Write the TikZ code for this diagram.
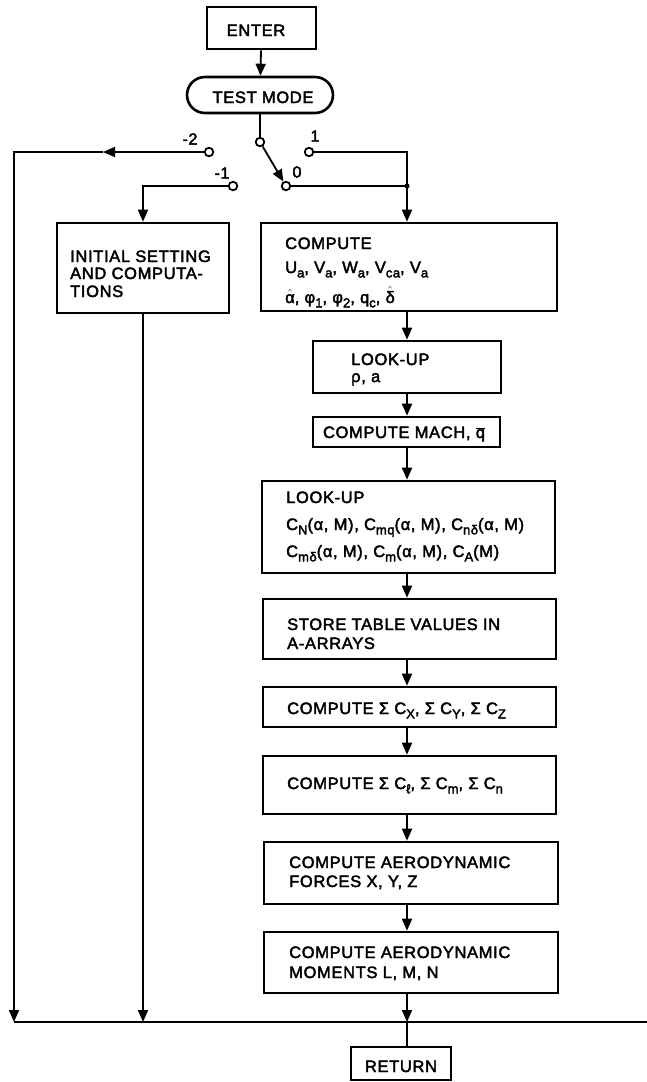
\documentclass[tikz,border=0pt]{standalone}
\usepackage{fontspec}
\setmainfont{Liberation Sans}[FakeBold=2.5,LetterSpace=4]
\usetikzlibrary{arrows.meta,shapes.misc}
\newcommand\sbs[1]{\raisebox{-0.5ex}{\fontsize{13}{13}\selectfont #1}}
\newcommand\hatm[1]{$\hat{\mbox{#1}}$}
\newcommand\barq{$\overline{\mbox{q}}$}
\begin{document}
\begin{tikzpicture}[x=1pt,y=-1pt,
  font=\fontsize{16.5}{18}\selectfont,
  box/.style={draw, line width=2.6pt, inner sep=0pt},
  conn/.style={line width=1.8pt},
  arr/.style={conn, -{Triangle[length=12pt,width=10pt]}},
  term/.style={circle, draw, fill=white, line width=1.8pt, minimum size=8.5pt, inner sep=0pt},
  txt/.style={anchor=base west, inner sep=0pt},
  lbl/.style={inner sep=0pt, font=\fontsize{16}{16}\selectfont},
  dot/.style={circle, fill=black, minimum size=5pt, inner sep=0pt}]
\useasboundingbox (0,0) rectangle (647,1082);
% boxes
\node[box, minimum width=109pt, minimum height=42pt] (enter) at (261.5,28) {};
\node[anchor=base, inner sep=0pt] (enterT) at (256,36) {ENTER};
\node[box, rounded rectangle, minimum width=146pt, minimum height=36pt] (test) at (260,95) {};
\node[anchor=base, inner sep=0pt] (testT) at (263,103) {TEST MODE};
\node[box, minimum width=172pt, minimum height=90pt] (init) at (143,268) {};
\node[txt] (initA) at (70,262) {INITIAL SETTING};
\node[txt] (initB) at (70,279) {AND COMPUTA-};
\node[txt] (initC) at (70,297) {TIONS};
\node[box, minimum width=296pt, minimum height=88pt] (c1) at (409,267) {};
\node[txt] (c1A) at (285,249) {COMPUTE};
\node[txt] (c1B) at (285,273) {U\sbs{a}, V\sbs{a}, W\sbs{a}, V\sbs{ca}, V\sbs{a}};
\node[txt] (c1C) at (285,303) {\smash{\hatm{α}}, φ\sbs{1}, φ\sbs{2}, q\sbs{c}, \smash{\hatm{δ}}};
\node[box, minimum width=188pt, minimum height=52pt] (look1) at (407,367) {};
\node[txt] (look1A) at (351,365) {LOOK-UP};
\node[txt] (look1B) at (351,382) {ρ, a};
\node[box, minimum width=187pt, minimum height=30pt] (mach) at (406.5,432) {};
\node[anchor=base, inner sep=0pt] (machT) at (404,438) {COMPUTE MACH, \barq};
\node[box, minimum width=293pt, minimum height=92pt] (look2) at (408.5,527) {};
\node[txt] (look2A) at (286,503) {LOOK-UP};
\node[txt] (look2B) at (286,530) {C\sbs{N}(α, M), C\sbs{mq}(α, M), C\sbs{nδ}(α, M)};
\node[txt] (look2C) at (286,557) {C\sbs{mδ}(α, M), C\sbs{m}(α, M), C\sbs{A}(M)};
\node[box, minimum width=293pt, minimum height=60pt] (store) at (409.5,629) {};
\node[txt] (storeA) at (287,630) {STORE TABLE VALUES IN};
\node[txt] (storeB) at (287,649) {A-ARRAYS};
\node[box, minimum width=293pt, minimum height=40pt] (sumx) at (409.5,707) {};
\node[txt] (sumxT) at (287,714) {COMPUTE Σ C\sbs{X}, Σ C\sbs{Y}, Σ C\sbs{Z}};
\node[box, minimum width=293pt, minimum height=58pt] (suml) at (409.5,785) {};
\node[txt] (sumlT) at (287,789) {COMPUTE Σ C\sbs{ℓ}, Σ C\sbs{m}, Σ C\sbs{n}};
\node[box, minimum width=294pt, minimum height=62pt] (forces) at (411,873) {};
\node[txt] (forcesA) at (289,868) {COMPUTE AERODYNAMIC};
\node[txt] (forcesB) at (289,887) {FORCES X, Y, Z};
\node[box, minimum width=294pt, minimum height=61pt] (moments) at (411,962.5) {};
\node[txt] (momentsA) at (289,958) {COMPUTE AERODYNAMIC};
\node[txt] (momentsB) at (289,978) {MOMENTS L, M, N};
\node[box, minimum width=100pt, minimum height=33pt] (ret) at (401,1063.5) {};
\node[anchor=base, inner sep=0pt] (retT) at (401,1072) {RETURN};
% switch terminals
\node[term] (piv) at (260,142) {};
\node[term] (tm2) at (209,152) {};
\node[term] (t1) at (309,152) {};
\node[term] (tm1) at (233,186) {};
\node[term] (t0) at (286,186) {};
\node[lbl] (lm2) at (190,139) {-2};
\node[lbl] (l1) at (315,136) {1};
\node[lbl] (lm1) at (222,173) {-1};
\node[lbl] (l0) at (297,172) {0};
% coordinates
\coordinate (mx) at (407,0);
\node[dot] (jn) at (407,186) {};
\coordinate (c1corner) at (407,152);
\coordinate (m2) at (103,152);
\coordinate (lc) at (14,152);
\coordinate (lb) at (14,1022);
\coordinate (ib) at (143,1022);
\coordinate (mb) at (407,1022);
\coordinate (rend) at (647,1022);
\coordinate (m1c) at (143,186);
% connectors
\draw[arr] (enter) -- (test);
\draw[conn] (test) -- (piv);
\draw[arr] (piv) -- (t0);
\draw[conn] (t1) -- (c1corner) -- (jn.center);
\draw[conn] (t0) -- (jn.center);
\draw[arr] (jn.center) -- (c1.north -| mx);
\draw[arr] (tm1) -- (m1c) -- (init.north);
\draw[arr] (tm2) -- (m2);
\draw[arr] (m2) -- (lc) -- (lb);
\draw[arr] (init.south) -- (ib);
\draw[arr] (c1.south -| mx) -- (look1.north -| mx);
\draw[arr] (look1.south -| mx) -- (mach.north -| mx);
\draw[arr] (mach.south -| mx) -- (look2.north -| mx);
\draw[arr] (look2.south -| mx) -- (store.north -| mx);
\draw[arr] (store.south -| mx) -- (sumx.north -| mx);
\draw[arr] (sumx.south -| mx) -- (suml.north -| mx);
\draw[arr] (suml.south -| mx) -- (forces.north -| mx);
\draw[arr] (forces.south -| mx) -- (moments.north -| mx);
\draw[arr] (moments.south -| mx) -- (mb);
\draw[conn] (lb) -- (rend);
\draw[conn] (mb) -- (ret.north -| mx);
\end{tikzpicture}
\end{document}
